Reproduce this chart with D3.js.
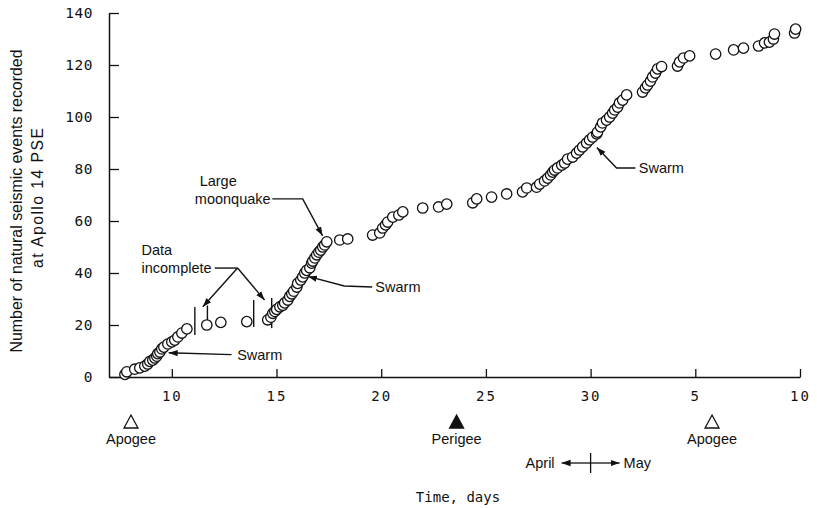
<!DOCTYPE html>
<html><head><meta charset="utf-8">
<script src="https://cdn.jsdelivr.net/npm/d3@7"></script>
<style>
html,body{margin:0;padding:0;background:#fff;}
svg{display:block;}
.mono{font-family:"DejaVu Sans Mono",monospace;font-size:14px;fill:#111;}
.ann{font-family:"Liberation Sans",Arial,sans-serif;font-size:14.5px;fill:#111;}
.ytitle{font-family:"Liberation Sans",Arial,sans-serif;font-size:15.8px;fill:#111;}
</style></head>
<body>
<script>
// ---- data (day of April; days > 30 run into May) ----
const eventDays = [
 7.76,7.85,8.23,8.47,8.71,8.85,8.95,9.09,9.19,9.28,9.33,9.43,9.52,9.62,9.81,10.0,10.14,10.29,10.48,10.72,
 11.67,12.34,13.58,
 14.58,14.73,14.82,14.92,15.01,15.16,15.30,15.39,15.54,15.63,15.73,15.82,15.97,16.01,16.16,16.25,16.35,16.44,16.59,16.68,16.73,16.83,16.92,17.02,17.11,17.21,17.30,17.40,
 18.02,18.40,19.59,19.93,20.07,20.21,20.31,20.55,20.84,21.03,21.98,22.74,23.13,24.37,24.56,25.27,25.99,26.75,26.95,
 27.42,27.57,27.80,27.95,28.09,28.19,28.28,28.42,28.62,28.76,28.90,29.14,29.33,29.47,29.62,29.81,29.95,30.10,30.29,30.33,30.48,30.57,30.76,30.91,31.05,31.15,31.29,31.38,31.53,31.72,
 32.48,32.62,32.72,32.86,32.96,33.10,33.20,33.39,34.15,34.25,34.44,34.73,35.97,36.83,37.30,38.02,38.31,38.54,38.73,38.78,39.74,39.79
];
const eventCounts = [
 1,2,3,3.5,4.2,5,6,6.5,7.3,8,9,9.6,10.8,11.5,12.7,13.5,14.2,15.4,16.9,18.5,
 20,21,21.3,
 22,23,24.5,25.2,26,27,27.6,28.5,29.6,31,32,33,34.6,36,37.3,38.5,40,41,42,43.8,44.6,45.8,47,48,48.8,50,50.8,52,
 52.7,53.1,54.6,55.4,57.3,58.5,59.6,61.5,62.3,63.5,65,65.4,66.5,67,68.5,69.2,70.4,71.2,72.7,
 73,74.2,75.4,76.5,77.7,78.8,79.6,80.4,81.5,82.3,83.8,84.6,86.1,87.3,88.5,90,91.2,92.3,93.5,94.2,96.2,97.7,98.8,100,101.5,102.7,103.8,105.4,106.5,108.5,
 109.6,111.2,112.3,113.8,115.4,116.9,118.5,119.4,119.6,121.2,122.7,123.5,124.2,125.8,126.5,127.3,128.5,128.8,130,131.9,132.3,133.8
];
const xTickValues = [10,15,20,25,30,35,40];
const xTickLabels = ["10","15","20","25","30","5","10"];
const yTickValues = [0,20,40,60,80,100,120,140];
// data-incomplete markers: day, low count, high count
const gapDays = [11.1, 11.7, 13.91, 14.77];
const gapLow  = [16.2, 20.5, 19.2, 18.8];
const gapHigh = [26.9, 27.5, 29.6, 30.4];
// orbital positions
const orbitLabels = ["Apogee","Perigee","Apogee"];
const orbitDays = [8.05, 23.6, 35.8];
const orbitFilled = [false, true, false];

const W = 817, H = 508;
const svg = d3.select("body").append("svg").attr("width", W).attr("height", H);
const x = d3.scaleLinear().domain([7, 40]).range([109, 800]);
const y = d3.scaleLinear().domain([0, 140]).range([377, 13]);

svg.append("defs").append("marker")
  .attr("id","arr").attr("viewBox","0 0 10 10").attr("refX",10).attr("refY",5)
  .attr("markerWidth",9).attr("markerHeight",9).attr("markerUnits","userSpaceOnUse")
  .attr("orient","auto")
  .append("path").attr("d","M0,1.5 L10,5 L0,8.5 Z").attr("fill","#111");

// axes
const gy = svg.append("g").attr("transform","translate(109,0)")
  .call(d3.axisLeft(y).tickValues(yTickValues).tickSizeInner(-10).tickSizeOuter(0).tickPadding(16));
const gx = svg.append("g").attr("transform","translate(0,377)")
  .call(d3.axisBottom(x).tickValues(xTickValues).tickSizeInner(-8).tickSizeOuter(0).tickPadding(14)
    .tickFormat((d,i) => xTickLabels[i]));
[gx, gy].forEach(g => {
  g.select(".domain").attr("stroke","#111").attr("stroke-width",1.5);
  g.selectAll(".tick line").attr("stroke","#111").attr("stroke-width",1.3);
  g.selectAll("text").attr("class","mono").attr("font-family",null).attr("font-size",null).attr("fill","#111");
});
gx.selectAll("text").style("letter-spacing","2px");
gy.selectAll("text").style("font-size","14.5px").style("letter-spacing","0.5px");

// y title
svg.append("text").attr("class","ytitle").attr("transform","translate(22,201) rotate(-90)").attr("text-anchor","middle")
  .attr("textLength",303).attr("lengthAdjust","spacingAndGlyphs").text("Number of natural seismic events recorded");
svg.append("text").attr("class","ytitle").attr("transform","translate(43,198) rotate(-90)").attr("text-anchor","middle")
  .attr("textLength",140).attr("lengthAdjust","spacing").text("at Apollo 14 PSE");

// x title
svg.append("text").attr("class","mono").attr("x",458).attr("y",502).attr("text-anchor","middle").text("Time, days");

// data incomplete markers
svg.append("g").selectAll("line").data(gapDays).join("line")
  .attr("x1",d=>x(d)).attr("x2",d=>x(d))
  .attr("y1",(d,i)=>y(gapLow[i])).attr("y2",(d,i)=>y(gapHigh[i]))
  .attr("stroke","#111").attr("stroke-width",1.4);

// points
svg.append("g").selectAll("circle").data(eventDays).join("circle")
  .attr("cx",d=>x(d)).attr("cy",(d,i)=>y(eventCounts[i])).attr("r",5.2)
  .attr("fill","#fff").attr("stroke","#111").attr("stroke-width",1.3);

// annotations (in data units)
const line = d3.line().x(d=>x(d[0])).y(d=>y(d[1]));
function leader(pts){
  svg.append("path").attr("d",line(pts)).attr("fill","none").attr("stroke","#111")
    .attr("stroke-width",1.4).attr("marker-end","url(#arr)");
}
function label(t, d, v){
  svg.append("text").attr("class","ann").attr("x",x(d)).attr("y",y(v)+5.2).text(t);
}
label("Swarm", 13.12, 8.4);
leader([[12.85,8.6],[9.85,9.3]]);
label("Swarm", 19.72, 34.6);
leader([[19.57,34.6],[18.24,35.0],[16.5,38.7]]);
label("Swarm", 32.3, 80.4);
leader([[32.14,80.4],[31.24,80.4],[30.3,88.3]]);
label("Large", 11.33, 75.4);
label("moonquake", 11.1, 68.5);
leader([[14.8,68.5],[16.25,68.5],[17.2,54.3]]);
label("Data", 8.55, 48.8);
label("incomplete", 8.55, 41.9);
svg.append("path").attr("d",line([[12.05,41.9],[13.14,41.9]])).attr("stroke","#111").attr("stroke-width",1.4);
leader([[13.14,41.9],[11.48,27.0]]);
leader([[13.14,41.9],[14.43,29.6]]);

// orbit markers
const og = svg.append("g");
orbitDays.forEach((d,i)=>{
  const cx = x(d);
  og.append("path").attr("d",`M${cx-7},428 L${cx+7},428 L${cx},415 Z`)
    .attr("fill",orbitFilled[i]?"#111":"#fff").attr("stroke","#111").attr("stroke-width",1.3);
  og.append("text").attr("class","ann").attr("x",cx).attr("y",444).attr("text-anchor","middle").text(orbitLabels[i]);
});

// April / May divider at end of April
const xm = x(30);
og.append("line").attr("x1",xm).attr("x2",xm).attr("y1",453).attr("y2",473).attr("stroke","#111").attr("stroke-width",1.3);
og.append("line").attr("x1",xm).attr("x2",xm-29).attr("y1",463).attr("y2",463).attr("stroke","#111").attr("stroke-width",1.3).attr("marker-end","url(#arr)");
og.append("line").attr("x1",xm).attr("x2",xm+29).attr("y1",463).attr("y2",463).attr("stroke","#111").attr("stroke-width",1.3).attr("marker-end","url(#arr)");
og.append("text").attr("class","ann").attr("x",xm-36).attr("y",468).attr("text-anchor","end").text("April");
og.append("text").attr("class","ann").attr("x",xm+33).attr("y",468).text("May");
</script>
</body></html>
